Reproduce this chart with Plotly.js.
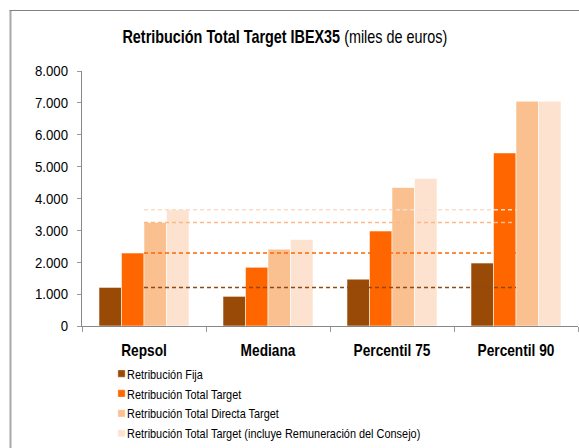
<!DOCTYPE html>
<html>
<head>
<meta charset="utf-8">
<script src="https://cdn.plot.ly/plotly-3.0.1.min.js"></script>
<style>html,body{margin:0;padding:0;background:#fff;}#chart{width:579px;height:448px;}</style>
</head>
<body>
<div id="chart"></div>
<script>
const categories = ['Repsol', 'Mediana', 'Percentil 75', 'Percentil 90'];
const seriesNames = [
  'Retribución Fija',
  'Retribución Total Target',
  'Retribución Total Directa Target',
  'Retribución Total Target (incluye Remuneración del Consejo)'
];
const fija = [1210, 930, 1470, 1975];
const totalTarget = [2290, 1840, 2980, 5430];
const directa = [3250, 2410, 4345, 7050];
const consejo = [3645, 2715, 4630, 7050];
const yTicks = [0, 1000, 2000, 3000, 4000, 5000, 6000, 7000, 8000];

const colors = ['#9A4A07', '#FF6600', '#FAC090', '#FDE2D0'];
const lineColors = ['#8E4A12', '#FF6600', '#FAB985', '#FBDCC8'];
const allSeries = [fija, totalTarget, directa, consejo];
const FONT = '"Liberation Sans Narrow", "Arial Narrow", "Liberation Sans", Arial, sans-serif';

const traces = allSeries.map((vals, i) => ({
  type: 'bar',
  name: seriesNames[i],
  x: categories,
  y: vals,
  marker: {color: colors[i], line: {color: 'rgba(255,255,255,0.55)', width: 1}},
  hoverinfo: 'y'
}));

// dashed reference lines at Repsol's values, from Repsol to Percentil 90
const shapes = allSeries.map((vals, i) => ({
  type: 'line', xref: 'x', yref: 'y', layer: 'above',
  x0: 0, x1: categories.length - 1, y0: vals[0], y1: vals[0],
  line: {color: lineColors[i], width: 1.5, dash: '4px,3px'}
}));
// chart frame (left and top edges)
shapes.push({type: 'line', xref: 'paper', yref: 'paper', x0: -0.1442, x1: -0.1442, y0: 1.2373, y1: -0.5,
  line: {color: '#A8A8A8', width: 2}});
shapes.push({type: 'line', xref: 'paper', yref: 'paper', x0: -0.1462, x1: 1.01, y0: 1.2373, y1: 1.2373,
  line: {color: '#808080', width: 1}});

const layout = {
  width: 579, height: 448,
  margin: {l: 82, r: 1, t: 71, b: 122},
  paper_bgcolor: '#fff', plot_bgcolor: '#fff',
  separators: ',.',
  font: {family: FONT, color: '#000'},
  title: {
    text: '<b>Retribución Total Target IBEX35</b> (miles de euros)',
    font: {family: FONT, size: 18, color: '#000'},
    x: 0.492, xref: 'container', xanchor: 'center',
    y: 0.917, yref: 'container', yanchor: 'middle'
  },
  barmode: 'group',
  bargap: 0.274,
  bargroupgap: 0,
  showlegend: true,
  legend: {
    orientation: 'v', x: 0.0101, xanchor: 'left', y: -0.122, yanchor: 'top',
    font: {family: FONT, size: 13, color: '#000'},
    bgcolor: 'rgba(0,0,0,0)', tracegroupgap: 0, itemwidth: 30, traceorder: 'normal'
  },
  xaxis: {
    type: 'category',
    showline: true, linecolor: '#888', linewidth: 1,
    ticks: 'outside', tickson: 'boundaries', ticklen: 5, tickcolor: '#999',
    ticklabelstandoff: 9,
    tickfont: {family: FONT, size: 16.5, color: '#000', weight: 'bold'},
    showgrid: false, zeroline: false, fixedrange: true
  },
  yaxis: {
    range: [0, 8000],
    tickvals: yTicks,
    tickformat: ',d',
    showline: true, linecolor: '#888', linewidth: 1,
    ticks: 'outside', ticklen: 4, tickcolor: '#999',
    ticklabelstandoff: 6,
    tickfont: {family: FONT, size: 15, color: '#000'},
    showgrid: false, zeroline: false, fixedrange: true
  },
  shapes: shapes
};

// The original uses a narrow typeface; condense the installed sans horizontally
function condense(el, k) {
  const x = parseFloat(el.getAttribute('x')) || 0;
  const prev = el.getAttribute('transform') || '';
  el.setAttribute('transform', prev + ' translate(' + x + ',0) scale(' + k + ',1) translate(' + (-x) + ',0)');
}

Plotly.newPlot('chart', traces, layout, {displayModeBar: false, staticPlot: true}).then(gd => {
  gd.querySelectorAll('.gtitle').forEach(t => condense(t, 0.8));
  gd.querySelectorAll('.xtick text').forEach(t => condense(t, 0.83));
  gd.querySelectorAll('.ytick text').forEach(t => condense(t, 0.88));
  gd.querySelectorAll('.legend .legendtext').forEach(t => condense(t, 0.84));
  gd.querySelectorAll('.legend .legendpoints path').forEach(p => {
    const prev = p.getAttribute('transform') || '';
    p.setAttribute('transform', prev + ' translate(14.5,0) scale(0.6)');
  });
  gd.querySelectorAll('g.legend').forEach(g => {
    const prev = g.getAttribute('transform') || '';
    g.setAttribute('transform', prev + ' translate(0,1.5)');
  });
});
</script>
</body>
</html>
